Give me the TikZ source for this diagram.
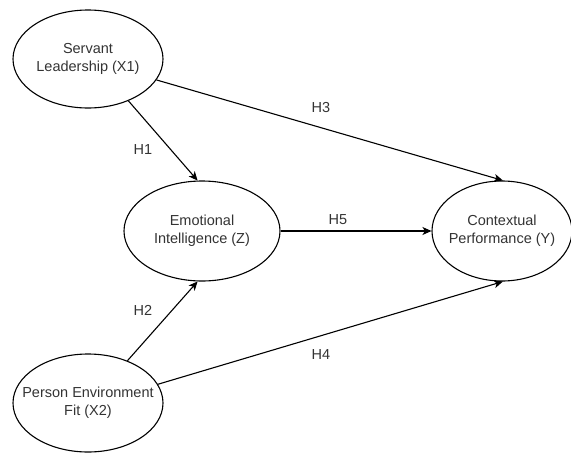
\documentclass[tikz,border=0pt]{standalone}
\usepackage{fontspec}
\setmainfont{Liberation Sans}
\usetikzlibrary{shapes.geometric,arrows.meta}
\definecolor{txt}{HTML}{333333}
\begin{document}
\begin{tikzpicture}[x=1pt,y=-1pt,
  latent/.style={draw=black,line width=1.1pt,ellipse,inner sep=0pt},
  inside/.style={text=txt,font=\fontsize{14.5}{18}\selectfont,align=center,inner sep=0pt},
  hlabel/.style={text=txt,font=\fontsize{14.5}{18}\selectfont,inner sep=0pt},
  path/.style={draw=black,line width=1.1pt,-{Stealth[length=9pt,width=8pt,inset=2.5pt]}}]
\useasboundingbox (0,0) rectangle (571,453);
\node[latent,minimum width=150pt,minimum height=98pt,
  label={[inside]center:Servant\\Leadership (X1)}] (X1) at (88,59) {};
\node[latent,minimum width=156pt,minimum height=100pt,
  label={[inside]center:Emotional\\Intelligence (Z)}] (Z) at (202,231) {};
\node[latent,minimum width=140pt,minimum height=100pt,
  label={[inside]center:Contextual\\Performance (Y)}] (Y) at (502,231) {};
\node[latent,minimum width=150pt,minimum height=98pt,
  label={[inside]center:Person Environment\\Fit (X2)}] (X2) at (88,403) {};
\draw[path] (X1.-46) -- (Z.95);
\draw[path] (X1.-17) -- (Y.89);
\draw[path] (Z.east) -- (Y.west);
\draw[path] (X2.47) -- (Z.-95);
\draw[path] (X2.15) -- (Y.-89);
\node[hlabel] (h1) at (143,150) {H1};
\node[hlabel] (h3) at (321,108) {H3};
\node[hlabel] (h5) at (338,220) {H5};
\node[hlabel] (h2) at (143,310) {H2};
\node[hlabel] (h4) at (321,355) {H4};
\end{tikzpicture}
\end{document}
